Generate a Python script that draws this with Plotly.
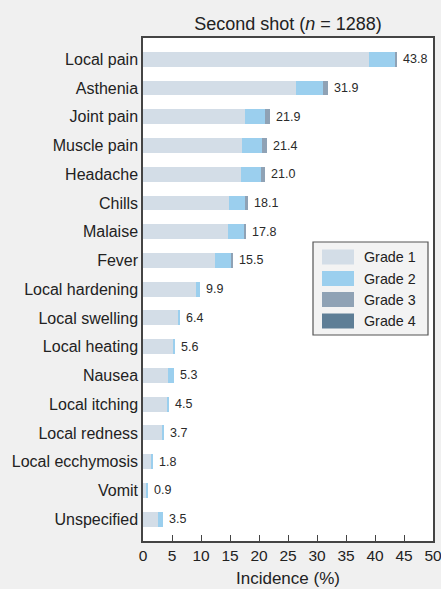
import plotly.graph_objects as go

categories = ["Local pain", "Asthenia", "Joint pain", "Muscle pain", "Headache", "Chills",
              "Malaise", "Fever", "Local hardening", "Local swelling", "Local heating",
              "Nausea", "Local itching", "Local redness", "Local ecchymosis", "Vomit", "Unspecified"]
grade1 = [38.9, 26.4, 17.5, 17.1, 16.9, 14.8, 14.7, 12.4, 9.2, 6.0, 5.1, 4.3, 4.2, 3.3, 1.4, 0.6, 2.5]
grade2 = [4.6, 4.6, 3.6, 3.5, 3.5, 2.7, 2.8, 2.8, 0.7, 0.4, 0.5, 1.0, 0.3, 0.4, 0.4, 0.3, 1.0]
grade3 = [0.3, 0.9, 0.8, 0.8, 0.6, 0.6, 0.3, 0.3, 0.0, 0.0, 0.0, 0.0, 0.0, 0.0, 0.0, 0.0, 0.0]
grade4 = [0.0] * 17
totals = [43.8, 31.9, 21.9, 21.4, 21.0, 18.1, 17.8, 15.5, 9.9, 6.4, 5.6, 5.3, 4.5, 3.7, 1.8, 0.9, 3.5]
grade_names = ["Grade 1", "Grade 2", "Grade 3", "Grade 4"]
grade_colors = ["#d3dde7", "#9bcfee", "#8fa2b5", "#5e7e96"]
x_ticks = [0, 5, 10, 15, 20, 25, 30, 35, 40, 45, 50]

FONT = "Liberation Sans"

fig = go.Figure()
for name, vals, col in zip(grade_names, [grade1, grade2, grade3, grade4], grade_colors):
    fig.add_trace(go.Bar(y=categories, x=vals, name=name, orientation="h",
                         marker=dict(color=col, line=dict(width=0)), width=0.52,
                         showlegend=False))

for c, t in zip(categories, totals):
    fig.add_annotation(x=t, y=c, text=f"{t:.1f}", showarrow=False, xanchor="left",
                       xshift=4, font=dict(size=12.5, color="#2a2a2a", family=FONT))

# pixel -> paper helpers (plot area: x 143..433 px, y 38..541 px)
def px_x(p):
    return (p - 143) / 290.0

def px_y(p):
    return (541 - p) / 503.0

# manual legend
fig.add_shape(type="rect", xref="paper", yref="paper",
              x0=px_x(313), x1=px_x(428), y0=px_y(335), y1=px_y(242),
              fillcolor="#f3f3f3", line=dict(color="#555555", width=1.2))
row_y = [257, 278.5, 299.5, 321]
for name, col, ry in zip(grade_names, grade_colors, row_y):
    fig.add_shape(type="rect", xref="paper", yref="paper",
                  x0=px_x(322), x1=px_x(354), y0=px_y(ry + 7.5), y1=px_y(ry - 7.5),
                  fillcolor=col, line=dict(width=0))
    fig.add_annotation(xref="paper", yref="paper", x=px_x(362), y=px_y(ry), text=name,
                       showarrow=False, xanchor="left", yanchor="middle",
                       font=dict(size=14.3, color="#222222", family=FONT))

# x-axis title
fig.add_annotation(xref="paper", yref="paper", x=0.5, y=px_y(578), text="Incidence (%)",
                   showarrow=False, xanchor="center", yanchor="middle",
                   font=dict(size=17, color="#222222", family=FONT))

fig.update_layout(
    width=441, height=589,
    margin=dict(l=143, r=8, t=38, b=48),
    paper_bgcolor="#f0f0f0", plot_bgcolor="#ffffff",
    barmode="stack", bargap=0.48,
    font=dict(family=FONT, size=16, color="#222222"),
    title=dict(text="Second shot (<i>n</i> = 1288)", x=288 / 441, xanchor="center",
               y=1 - 24 / 589, yanchor="middle", font=dict(size=18, color="#222222")),
)
fig.update_xaxes(range=[0, 50], tickvals=x_ticks, ticks="inside", ticklen=6, tickcolor="#444444",
                 showline=True, linecolor="#444444", linewidth=1.5, mirror=True,
                 showgrid=False, zeroline=False, tickfont=dict(size=15.5), automargin=False,
                 ticklabeloverflow="allow")
fig.update_yaxes(categoryorder="array", categoryarray=categories, range=[16.76, -0.74],
                 showline=True, linecolor="#444444", linewidth=1.5, mirror=True,
                 showgrid=False, ticks="", ticklen=0, tickfont=dict(size=16), automargin=False)

fig.write_html("out.html", config={"displayModeBar": False},
               post_script="document.body.style.margin='0';document.body.style.overflow='hidden';")
